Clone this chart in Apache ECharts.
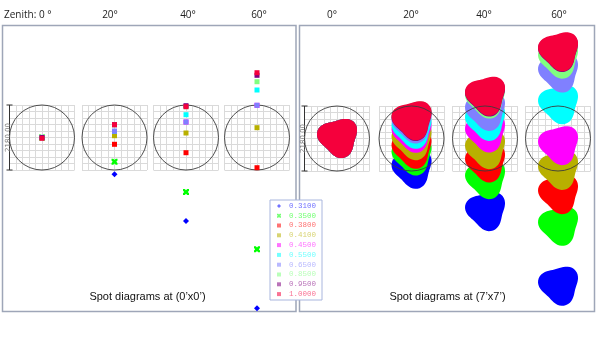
<!DOCTYPE html>
<html>
<head>
<meta charset="utf-8">
<script src="https://cdn.jsdelivr.net/npm/echarts@6/dist/echarts.min.js"></script>
<style>
html, body { margin: 0; padding: 0; background: #fff; }
#chart { width: 598px; height: 337px; }
</style>
</head>
<body>
<div id="chart"></div>
<script>
// wavelengths (legend order, short to long)
const wavelengths = ['0.3100', '0.3500', '0.3800', '0.4100', '0.4500', '0.5500', '0.6500', '0.8500', '0.9500', '1.0000'];
const zenithLeft = ['Zenith: 0 °', '20°', '40°', '60°'];
const zenithRight = ['0°', '20°', '40°', '60°'];
const panelTitles = ['Spot diagrams at (0’x0’)', 'Spot diagrams at (7’x7’)'];
const scaleBar = 2180.00; // circle diameter, um

// spot centroid height (um, up = +), one value per wavelength, field (0'x0')
const axisSpots0 = [0, 0, 0, 0, 0, 0, 0, 0, 0, -27];
const axisSpots20 = [-1234, -812, -228, 60, 208, 208, 208, 429, 429, 429];
const axisSpots40 = [-2800, -1828, -510, 151, 520, 765, 520, 1033, 1067, 1033];
const axisSpots60 = [-5728, -3750, -1013, 329, 1080, 1593, 1080, 1871, 2086, 2173];
// field (7'x7')
const fieldSpots0 = [0, 0, 0, 0, 0, 0, 0, 0, 0, 0];
const fieldSpots20 = [-1032, -586, -362, -74, 174, 308, 486, 586, 570, 596];
const fieldSpots40 = [-2452, -1380, -821, -375, 184, 573, 908, 1323, 1390, 1417];
const fieldSpots60 = [-4955, -2945, -1883, -1069, -241, 1132, 2194, 2663, 2884, 2908];

const axisSpots = [axisSpots0, axisSpots20, axisSpots40, axisSpots60];
const fieldSpots = [fieldSpots0, fieldSpots20, fieldSpots40, fieldSpots60];

const colors = ['#0000ff', '#00ff00', '#ff0000', '#b8b000', '#ff00ff', '#00ffff', '#8080ff', '#80ff80', '#800080', '#f5003c'];
const xPath = 'path://M0,0 L3,0 5,2 7,0 10,0 10,3 8,5 10,7 10,10 7,10 5,8 3,10 0,10 0,7 2,5 0,3Z';
const symbols = ['diamond', xPath, 'rect', 'rect', 'rect', 'rect', 'rect', 'rect', 'rect', 'rect'];
const symSizes = [6, 6, 5, 5, 5, 5, 5, 5, 5, 5];
const R = scaleBar / 2;
const blobW = 1340, blobH = 1310;

// rounded-triangle outline of one spot, normalised to a -1..1 box
const blobOutline = (() => {
  const pts = [];
  for (let d = 0; d < 360; d += 6) {
    const t = d * Math.PI / 180;
    const r = 1 + 0.14 * Math.cos(3 * (t - 75 * Math.PI / 180));
    pts.push([r * Math.cos(t), r * Math.sin(t)]);
  }
  const xs = pts.map(p => p[0]), ys = pts.map(p => p[1]);
  const x0 = Math.min(...xs), x1 = Math.max(...xs), y0 = Math.min(...ys), y1 = Math.max(...ys);
  return pts.map(p => [(p[0] - (x0 + x1) / 2) * 2 / (x1 - x0), (p[1] - (y0 + y1) / 2) * 2 / (y1 - y0)]);
})();

const leftCx = [42, 114.5, 186, 257], rightCx = [337, 411.5, 485, 558];

function pale(hex) {
  const n = parseInt(hex.slice(1), 16);
  const m = c => Math.round(c + (255 - c) * 0.45);
  return 'rgb(' + m(n >> 16) + ',' + m((n >> 8) & 255) + ',' + m(n & 255) + ')';
}

const grids = [], xAxes = [], yAxes = [], series = [];
const axisCfg = { type: 'value', min: -R, max: R, interval: R / 5, axisLine: { show: false }, axisTick: { show: false }, axisLabel: { show: false }, splitLine: { lineStyle: { color: '#dadada', width: 1 } } };

function circleSeries(gi, z) {
  return { type: 'custom', xAxisIndex: gi, yAxisIndex: gi, z: z, silent: true, data: [[0, 0]],
    renderItem: (p, api) => {
      const c = api.coord([0, 0]); const r = api.size([R, 0])[0];
      return { type: 'circle', shape: { cx: c[0], cy: c[1], r: r }, style: { fill: 'none', stroke: '#3c3c3c', lineWidth: 0.9 } };
    } };
}
function scaleSeries(gi) {
  return { type: 'custom', xAxisIndex: gi, yAxisIndex: gi, z: 6, silent: true, data: [[-R, scaleBar]],
    renderItem: (p, api) => {
      const a = api.coord([api.value(0), -api.value(1) / 2]), b = api.coord([api.value(0), api.value(1) / 2]);
      const ls = { stroke: '#333', lineWidth: 1 };
      return { type: 'group', children: [
        { type: 'line', shape: { x1: a[0], y1: a[1], x2: b[0], y2: b[1] }, style: ls },
        { type: 'line', shape: { x1: a[0] - 3, y1: a[1], x2: a[0] + 3, y2: a[1] }, style: ls },
        { type: 'line', shape: { x1: b[0] - 3, y1: b[1], x2: b[0] + 3, y2: b[1] }, style: ls },
        { type: 'text', x: a[0] - 1, y: (a[1] + b[1]) / 2, rotation: Math.PI / 2,
          style: { text: scaleBar.toFixed(2), fontSize: 7, fontFamily: 'DejaVu Sans', fill: '#777', align: 'center', verticalAlign: 'middle' } }
      ] };
    } };
}

for (let k = 0; k < 8; k++) {
  const right = k >= 4, col = k % 4;
  const cx = right ? rightCx[col] : leftCx[col];
  grids.push({ left: cx - 32.5, top: right ? 106 : 105, width: 65, height: 65 });
  xAxes.push(Object.assign({ gridIndex: k }, axisCfg));
  yAxes.push(Object.assign({ gridIndex: k }, axisCfg));
  if (!right) {
    series.push(circleSeries(k, 1));
    wavelengths.forEach((w, i) => {
      series.push({ name: w, type: 'scatter', xAxisIndex: k, yAxisIndex: k, clip: false, z: 3,
        symbol: symbols[i], symbolSize: symSizes[i], itemStyle: { color: colors[i], opacity: 1 },
        data: [[0, axisSpots[col][i]]] });
    });
  } else {
    wavelengths.forEach((w, i) => {
      series.push({ name: w, type: 'custom', xAxisIndex: k, yAxisIndex: k, z: 3,
        itemStyle: { color: colors[i] }, data: [[0, fieldSpots[col][i]]],
        renderItem: (p, api) => {
          const c = api.coord([api.value(0), api.value(1)]);
          const s = api.size([blobW, blobH]);
          const pts = blobOutline.map(q => [c[0] + q[0] * s[0] / 2, c[1] + q[1] * s[1] / 2]);
          return { type: 'polygon', shape: { points: pts }, style: { fill: api.visual('color') } };
        } });
    });
    series.push(circleSeries(k, 5));
  }
}
series.push(scaleSeries(0), scaleSeries(4));

const graphic = [
  { type: 'rect', z: 0, shape: { x: 2.5, y: 25.5, width: 293.5, height: 286 }, style: { fill: 'none', stroke: '#9ea6b8', lineWidth: 1.5 } },
  { type: 'rect', z: 0, shape: { x: 299.5, y: 25.5, width: 295, height: 286 }, style: { fill: 'none', stroke: '#9ea6b8', lineWidth: 1.5 } },
  { type: 'text', x: 4, y: 15, style: { text: zenithLeft[0], fontSize: 10, fontFamily: 'Open Sans', fill: '#222', verticalAlign: 'middle' } },
  { type: 'text', x: 147.5, y: 297, style: { text: panelTitles[0], fontSize: 11, fontFamily: 'Liberation Sans', fill: '#111', align: 'center', verticalAlign: 'middle' } },
  { type: 'text', x: 447.5, y: 297, style: { text: panelTitles[1], fontSize: 11, fontFamily: 'Liberation Sans', fill: '#111', align: 'center', verticalAlign: 'middle' } }
];
const leftLabelX = [0, 110, 188, 259], rightLabelX = [332, 411, 484, 559];
for (let c = 1; c < 4; c++) graphic.push({ type: 'text', x: leftLabelX[c], y: 15, style: { text: zenithLeft[c], fontSize: 10, fontFamily: 'Open Sans', fill: '#222', align: 'center', verticalAlign: 'middle' } });
for (let c = 0; c < 4; c++) graphic.push({ type: 'text', x: rightLabelX[c], y: 15, style: { text: zenithRight[c], fontSize: 10, fontFamily: 'Open Sans', fill: '#222', align: 'center', verticalAlign: 'middle' } });

const chart = echarts.init(document.getElementById('chart'));
chart.setOption({
  animation: false,
  grid: grids, xAxis: xAxes, yAxis: yAxes,
  legend: {
    orient: 'vertical', left: 270, top: 200, z: 20, selectedMode: false,
    itemWidth: 4, itemHeight: 4, itemGap: 0, padding: [1, 6, 1, 7],
    backgroundColor: '#fff', borderColor: '#a9b6de', borderWidth: 1,
    textStyle: { fontFamily: 'Liberation Mono', fontSize: 7.5, lineHeight: 9.8, padding: [0, 0, 0, 3] },
    data: wavelengths.map((w, i) => ({ name: w, icon: symbols[i], itemStyle: { color: pale(colors[i]) }, textStyle: { color: pale(colors[i]) } }))
  },
  graphic: graphic,
  series: series
});
</script>
</body>
</html>
